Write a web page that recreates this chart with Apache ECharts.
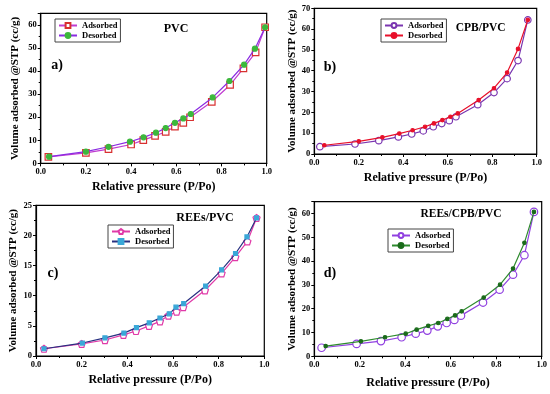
<!DOCTYPE html>
<html><head><meta charset="utf-8">
<script src="https://cdn.jsdelivr.net/npm/echarts@6/dist/echarts.min.js"></script>
<style>html,body{margin:0;padding:0;background:#fff}#c{width:550px;height:394px}</style>
</head><body><div id="c"></div>
<script>
// ---- data ----
const aX_ads = [0.034,0.2,0.3,0.4,0.454,0.506,0.553,0.594,0.631,0.661,0.757,0.838,0.897,0.951,0.993];
const aY_ads = [2.8,4.6,6.2,8.2,10.1,11.9,13.7,15.9,17.6,20.0,26.7,34.0,41.2,48.1,59.0];
const aX_des = [0.037,0.2,0.3,0.395,0.455,0.51,0.553,0.594,0.631,0.664,0.761,0.835,0.9,0.948,0.993];
const aY_des = [2.9,5.1,7.2,9.4,11.3,13.3,15.3,17.6,19.5,21.4,28.6,35.7,42.8,49.7,59.0];

const bX_ads = [0.025,0.183,0.29,0.378,0.438,0.49,0.535,0.573,0.607,0.637,0.735,0.808,0.867,0.916,0.96];
const bY_ads = [3.5,4.8,6.4,8.2,9.6,11.1,13.1,14.6,16.0,17.9,23.7,29.5,36.2,44.9,64.4];
const bX_des = [0.045,0.2,0.306,0.382,0.442,0.498,0.538,0.576,0.612,0.645,0.739,0.808,0.867,0.916,0.96];
const bY_des = [4.2,6.1,8.0,9.8,11.4,13.1,14.7,16.3,17.9,19.5,25.9,31.6,39.1,50.5,64.4];

const cX_ads = [0.035,0.2,0.302,0.383,0.438,0.495,0.543,0.58,0.616,0.645,0.74,0.813,0.873,0.926,0.966];
const cY_ads = [1.2,2.0,2.65,3.5,4.15,5.0,5.75,6.7,7.35,8.1,10.9,13.7,16.4,19.0,22.9];
const cX_des = [0.035,0.203,0.302,0.385,0.44,0.496,0.543,0.584,0.613,0.647,0.743,0.813,0.874,0.924,0.966];
const cY_des = [1.2,2.15,3.0,3.8,4.7,5.5,6.3,7.0,8.1,8.7,11.6,14.3,17.0,19.75,22.9];

const dX_ads = [0.032,0.186,0.293,0.384,0.446,0.497,0.543,0.582,0.616,0.645,0.742,0.815,0.874,0.924,0.966];
const dY_ads = [3.6,5.2,6.4,8.0,9.5,10.8,12.6,14.0,15.3,17.1,22.6,28.0,34.3,42.5,60.7];
const dX_des = [0.05,0.205,0.311,0.402,0.45,0.501,0.545,0.585,0.619,0.648,0.745,0.817,0.874,0.924,0.966];
const dY_des = [4.3,6.3,8.0,9.5,11.2,12.8,14.0,15.7,17.2,18.9,24.7,30.1,36.9,47.7,60.7];

const seriesNames = ['Adsorbed','Desorbed'];
const panelTitles = ['PVC','CPB/PVC','REEs/PVC','REEs/CPB/PVC'];
const panelLetters = ['a)','b)','c)','d)'];
const xName = 'Relative pressure (P/Po)';
const yName = 'Volume adsorbed @STP (cc/g)';
const yMax = [65,70,25,65];
const yStep = [10,10,5,10];

// ---- layout ----
const F = 'Liberation Serif';
const zip = (xs, ys) => xs.map((x,i)=>[x, ys[i]]);
const grids = [
  {left:40.7, top:13.4, width:226, height:150},
  {left:314.3, top:8.3, width:222.4, height:145.7},
  {left:36, top:205.3, width:228.3, height:150.7},
  {left:314.3, top:201.7, width:227.4, height:154.6}
];
const yGap = [20,17,17,17];
const xGap = [18,18,18,21];

const xAxes = grids.map((g,i)=>({
  type:'value', gridIndex:i, min:0, max:1, interval:0.2,
  name:xName, nameLocation:'middle', nameGap:xGap[i],
  nameTextStyle:{fontFamily:F, fontWeight:'bold', fontSize:12, color:'#000'},
  axisLine:{show:true, onZero:false, lineStyle:{color:'#000', width:1.2}},
  axisTick:{show:true, inside:false, length:3, lineStyle:{color:'#000'}},
  minorTick:{show:true, splitNumber:2, length:2, lineStyle:{color:'#000'}},
  axisLabel:{formatter:v=>v.toFixed(1), fontFamily:F, fontWeight:'bold', fontSize:8.5, color:'#000', margin:4},
  splitLine:{show:false}
}));
const yAxes = grids.map((g,i)=>({
  type:'value', gridIndex:i, min:0, max:yMax[i], interval:yStep[i],
  name:yName, nameLocation:'middle', nameGap:yGap[i],
  nameTextStyle:{fontFamily:F, fontWeight:'bold', fontSize:11, color:'#000'},
  axisLine:{show:true, onZero:false, lineStyle:{color:'#000', width:1.2}},
  axisTick:{show:true, inside:false, length:3, lineStyle:{color:'#000'}},
  minorTick:{show:true, splitNumber:2, length:2, lineStyle:{color:'#000'}},
  axisLabel:{fontFamily:F, fontWeight:'bold', fontSize:8.5, color:'#000', margin:4,
    formatter:v=> (v % yStep[i] === 0 ? String(v) : '')},
  splitLine:{show:false}
}));

const pent = 'path://M0,-10 L9.51,-3.09 L5.88,8.09 L-5.88,8.09 L-9.51,-3.09 Z';
const styles = [
  [ {symbol:'rect', size:6.5, line:'#c03cd0', fill:'#fff', border:'#d83030'},
    {symbol:'circle', size:5, line:'#8a2be2', fill:'#3cb83c', border:'#3cb83c'} ],
  [ {symbol:'circle', size:6.5, line:'#7a35b0', fill:'#fff', border:'#7a35b0'},
    {symbol:'circle', size:3.5, line:'#e8102a', fill:'#e8102a', border:'#e8102a'} ],
  [ {symbol:pent, size:7, line:'#e03aa8', fill:'#fff', border:'#e03aa8'},
    {symbol:'rect', size:4, line:'#283080', fill:'#3aa8d8', border:'#3aa8d8'} ],
  [ {symbol:'circle', size:7.5, line:'#9040e0', fill:'#fff', border:'#9040e0'},
    {symbol:'circle', size:3.5, line:'#2e8b2e', fill:'#1a6b1a', border:'#1a6b1a'} ]
];
const dataSets = [
  [zip(aX_ads,aY_ads), zip(aX_des,aY_des)],
  [zip(bX_ads,bY_ads), zip(bX_des,bY_des)],
  [zip(cX_ads,cY_ads), zip(cX_des,cY_des)],
  [zip(dX_ads,dY_ads), zip(dX_des,dY_des)]
];
const tags = ['a','b','c','d'];
const series = [];
dataSets.forEach((pair,i)=>{
  pair.forEach((d,j)=>{
    const s = styles[i][j];
    series.push({
      type:'line', name:seriesNames[j]+' '+tags[i], xAxisIndex:i, yAxisIndex:i,
      data:d, symbol:s.symbol, symbolSize:s.size, showAllSymbol:true,
      lineStyle:{color:s.line, width:1.2},
      itemStyle:{color:s.fill, borderColor:s.border, borderWidth:1.2},
      z:2+j
    });
  });
});

const legendPos = [[55,19],[381,19],[108,225],[388,229]];
const legends = legendPos.map((p,i)=>({
  orient:'vertical', left:p[0], top:p[1],
  data:seriesNames.map(n=>n+' '+tags[i]),
  formatter:n=>n.split(' ')[0],
  borderColor:'#444', borderWidth:1, padding:[2,3,2,3], itemGap:1,
  itemWidth:18, itemHeight:6,
  textStyle:{fontFamily:F, fontWeight:'bold', fontSize:8.5, color:'#000'},
  selectedMode:false
}));

const titlePos = [[176,29,12],[480.7,28,11.5],[205,218,12],[461,214,11.5]];
const letterPos = [[57,65],[330,67],[53,273],[330,273]];
const graphic = [];
titlePos.forEach((p,i)=>graphic.push({type:'text', x:p[0], y:p[1],
  style:{text:panelTitles[i], fontFamily:F, fontWeight:'bold', fontSize:p[2], fill:'#000', align:'center', verticalAlign:'middle'}}));
letterPos.forEach((p,i)=>graphic.push({type:'text', x:p[0], y:p[1],
  style:{text:panelLetters[i], fontFamily:F, fontWeight:'bold', fontSize:14, fill:'#000', align:'center', verticalAlign:'middle'}}));

const chart = echarts.init(document.getElementById('c'), null, {renderer:'canvas'});
chart.setOption({
  animation:false,
  backgroundColor:'#fff',
  grid:grids.map(g=>Object.assign({show:true, borderColor:'#000', borderWidth:1.2, backgroundColor:'transparent', containLabel:false}, g)),
  xAxis:xAxes, yAxis:yAxes, series:series, legend:legends, graphic:graphic
});
</script></body></html>
